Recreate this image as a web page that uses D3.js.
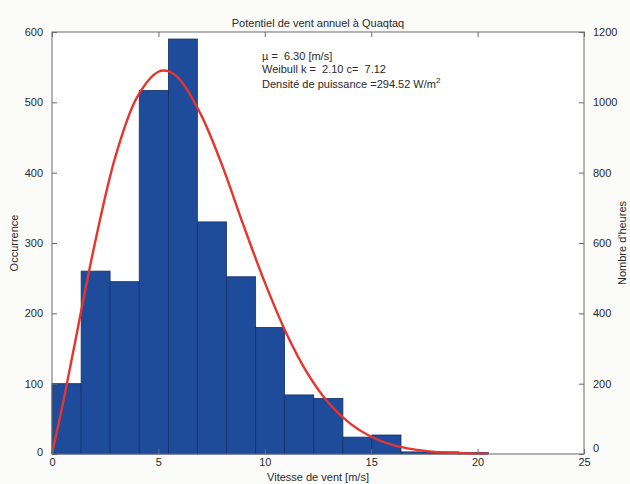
<!DOCTYPE html>
<html>
<head>
<meta charset="utf-8">
<script src="https://cdn.jsdelivr.net/npm/d3@7"></script>
<style>
  body { margin: 0; background: #fbfbf9; }
  text { font-family: "Liberation Sans", Arial, sans-serif; fill: #2a2a2a; white-space: pre; }
</style>
</head>
<body>
<script>
// Histogram bins (wind speed, m/s) and occurrence counts
var binEdges = [0, 1.37, 2.73, 4.1, 5.47, 6.83, 8.2, 9.57, 10.93, 12.3, 13.67, 15.03, 16.4, 17.77, 19.13, 20.5];
var counts = [100, 260, 245, 517, 590, 330, 252, 180, 84, 79, 24, 27, 3, 3, 2];

// Weibull fit curve (hours, right axis)
var curveX = [0, 0.5, 1, 2, 3, 4, 5, 5.5, 6, 7, 8, 9, 10, 11, 12, 13, 14, 15, 16, 17, 18, 19, 20, 20.5];
var curveH = [0, 140, 292, 595, 850, 1015, 1087, 1088, 1065, 965, 820, 650, 488, 345, 230, 145, 87, 49, 26, 13, 6, 3, 1, 1];

var xTicks = [0, 5, 10, 15, 20, 25];
var yTicks = [0, 100, 200, 300, 400, 500, 600];
var y2Ticks = [0, 200, 400, 600, 800, 1000, 1200];

var annot = ["\u00b5 =  6.30 [m/s]", "Weibull k =  2.10 c=  7.12", "Densit\u00e9 de puissance =294.52 W/m"];

var width = 630, height = 484;
var margin = { top: 32, right: 46, bottom: 30, left: 52 };
var w = width - margin.left - margin.right;
var h = height - margin.top - margin.bottom;

var svg = d3.select("body").append("svg")
    .attr("width", width)
    .attr("height", height);

var g = svg.append("g")
    .attr("transform", `translate(${margin.left},${margin.top})`);

var x = d3.scaleLinear().domain([0, 25]).range([0, w]);
var y = d3.scaleLinear().domain([0, 600]).range([h, 0]);
var y2 = d3.scaleLinear().domain([0, 1200]).range([h, 0]);

g.append("rect").attr("width", w).attr("height", h).attr("fill", "#ffffff");

// bars
g.selectAll("rect.bar")
    .data(counts)
    .enter()
    .append("rect")
    .attr("class", "bar")
    .attr("x", (d, i) => x(binEdges[i]))
    .attr("width", (d, i) => x(binEdges[i + 1]) - x(binEdges[i]))
    .attr("y", d => y(d))
    .attr("height", d => h - y(d))
    .attr("fill", "#1f4b9b")
    .attr("stroke", "#14306a")
    .attr("stroke-width", 0.8);

// weibull curve
var line = d3.line()
    .x(d => x(d[0]))
    .y(d => y2(d[1]))
    .curve(d3.curveCatmullRom);

g.append("path")
    .datum(curveX.map((v, i) => [v, curveH[i]]))
    .attr("d", line)
    .attr("fill", "none")
    .attr("stroke", "#e8342b")
    .attr("stroke-width", 2.4);

// frame
g.append("rect").attr("width", w).attr("height", h)
    .attr("fill", "none").attr("stroke", "#6a6a6a").attr("stroke-width", 1);

// axes, ticks pointing inward
var fmt = d3.format("d");
var xAxis = g.append("g").attr("transform", `translate(0,${h})`)
    .call(d3.axisBottom(x).tickValues(xTicks).tickFormat(fmt).tickSizeInner(-5).tickSizeOuter(0).tickPadding(4));
var xTop = g.append("g")
    .call(d3.axisTop(x).tickValues(xTicks).tickSizeInner(-5).tickSizeOuter(0).tickFormat(""));
var yAxis = g.append("g")
    .call(d3.axisLeft(y).tickValues(yTicks).tickFormat(fmt).tickSizeInner(-5).tickSizeOuter(0).tickPadding(9));
var y2Axis = g.append("g").attr("transform", `translate(${w},0)`)
    .call(d3.axisRight(y2).tickValues(y2Ticks).tickFormat(fmt).tickSizeInner(-5).tickSizeOuter(0).tickPadding(9));

[xAxis, xTop, yAxis, y2Axis].forEach(a => {
    a.select(".domain").remove();
    a.selectAll("line").attr("stroke", "#6a6a6a");
    a.selectAll("text").attr("font-size", 11).attr("fill", "#2a2a2a");
});

// zero labels sit slightly off, as in the original
yAxis.selectAll("text").filter(d => d === 0).attr("dy", "0.1em");
y2Axis.selectAll("text").filter(d => d === 0).attr("dy", "-0.2em");

// titles
svg.append("text")
    .attr("x", margin.left + w / 2).attr("y", 27)
    .attr("text-anchor", "middle").attr("font-size", 11)
    .text("Potentiel de vent annuel \u00e0 Quaqtaq");

svg.append("text")
    .attr("x", margin.left + w / 2).attr("y", 481)
    .attr("text-anchor", "middle").attr("font-size", 11)
    .text("Vitesse de vent [m/s]");

svg.append("text")
    .attr("transform", `translate(18,${margin.top + h / 2}) rotate(-90)`)
    .attr("text-anchor", "middle").attr("font-size", 11)
    .text("Occurrence");

svg.append("text")
    .attr("transform", `translate(626,${margin.top + h / 2}) rotate(-90)`)
    .attr("text-anchor", "middle").attr("font-size", 11)
    .text("Nombre d'heures");

// annotation text
var ann = svg.append("g").attr("transform", "translate(262,0)");
ann.append("text").attr("y", 60).attr("font-size", 11).text(annot[0]);
ann.append("text").attr("y", 73).attr("font-size", 11).text(annot[1]);
var dens = ann.append("text").attr("y", 88).attr("font-size", 11).text(annot[2]);
dens.append("tspan").attr("dy", -5).attr("font-size", 8).text("2");
</script>
</body>
</html>
